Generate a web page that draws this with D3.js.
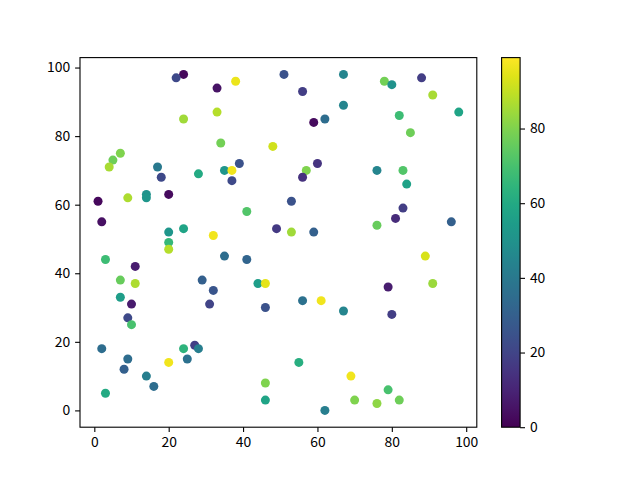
<!DOCTYPE html>
<html>
<head>
<meta charset="utf-8">
<script src="https://d3js.org/d3.v7.min.js"></script>
<style>
    body { margin: 0; background: #fff; }
    svg text { font-family: "Noto Sans CJK SC", "Noto Sans", "DejaVu Sans", sans-serif; font-size: 13.9px; fill: #000; }
</style>
</head>
<body>
<div id="chart"></div>
<script>
// scatter points
var xs = [24, 22, 38, 33, 51, 33, 24, 34, 48, 7, 5, 4, 17, 18, 28, 35, 37, 39, 37,
    67, 56, 78, 80, 88, 91, 67, 98, 59, 62, 82, 85, 60, 57, 56, 76, 83, 84,
    1, 9, 14, 14, 20, 2, 41, 49, 20, 24, 32, 20, 20, 3, 35, 41, 11, 7, 11, 29, 32, 44, 46, 7, 10, 31, 46,
    53, 83, 81, 76, 96, 53, 59, 89, 79, 91, 56, 61,
    9, 10, 2, 24, 27, 28, 9, 25, 20, 8, 14, 16, 3, 46, 46,
    67, 80, 55, 69, 79, 70, 76, 82, 62];
var ys = [98, 97, 96, 94, 98, 87, 85, 78, 77, 75, 73, 71, 71, 68, 69, 70, 70, 72, 67,
    98, 93, 96, 95, 97, 92, 89, 87, 84, 85, 86, 81, 72, 70, 68, 70, 70, 66,
    61, 62, 63, 62, 63, 55, 58, 53, 52, 53, 51, 49, 47, 44, 45, 44, 42, 38, 37, 38, 35, 37, 37, 33, 31, 31, 30,
    61, 59, 56, 54, 55, 52, 52, 45, 36, 37, 32, 32,
    27, 25, 18, 18, 19, 18, 15, 15, 14, 12, 10, 7, 5, 8, 3,
    29, 28, 14, 10, 6, 3, 2, 3, 0];
var cs = [2, 22, 96, 5, 25, 88, 85, 78, 92, 80, 77, 86, 40, 22, 60, 52, 97, 25, 22,
    45, 18, 78, 50, 18, 86, 45, 58, 3, 35, 68, 77, 15, 80, 14, 45, 72, 57,
    2, 87, 50, 52, 3, 4, 72, 17, 52, 58, 97, 66, 88, 68, 35, 32, 8, 76, 87, 30, 26, 55, 95, 55, 7, 20, 25,
    25, 18, 12, 76, 30, 85, 30, 93, 8, 84, 37, 97,
    22, 70, 35, 64, 18, 42, 35, 37, 97, 30, 42, 35, 60, 80, 58,
    45, 18, 62, 97, 70, 80, 82, 77, 42];
var axisTicks = [0, 20, 40, 60, 80, 100];
var colorTicks = [0, 20, 40, 60, 80];
var colorRange = [0, 99];

var width = 640, height = 480;
// axes box in pixels (matplotlib default layout with a colorbar)
var plot = {left: 80, right: 476.8, top: 57.6, bottom: 427.2};
var cbar = {left: 501.6, right: 520.1, top: 57.6, bottom: 427.2};

var svg = d3.select("#chart").append("svg")
    .attr("width", width)
    .attr("height", height);

// pad the data range by 5% on each side
function padded(values) {
    var ext = d3.extent(values);
    var m = (ext[1] - ext[0]) * 0.05;
    return [ext[0] - m, ext[1] + m];
}

var xScale = d3.scaleLinear().domain(padded(xs)).range([plot.left, plot.right]);
var yScale = d3.scaleLinear().domain(padded(ys)).range([plot.bottom, plot.top]);
var colorScale = d3.scaleSequential(d3.interpolateViridis).domain(colorRange);

var points = d3.range(xs.length).map(function (i) {
    return {x: xs[i], y: ys[i], c: cs[i]};
});

svg.append("g")
    .selectAll("circle")
    .data(points)
    .enter()
    .append("circle")
    .attr("cx", function (d) { return xScale(d.x); })
    .attr("cy", function (d) { return yScale(d.y); })
    .attr("r", 4.5)
    .attr("fill", function (d) { return colorScale(d.c); });

// axes
var xAxis = svg.append("g")
    .attr("transform", "translate(0," + plot.bottom + ")")
    .call(d3.axisBottom(xScale).tickValues(axisTicks).tickSizeOuter(0).tickSize(4.9).tickPadding(4.9));

var yAxis = svg.append("g")
    .attr("transform", "translate(" + plot.left + ",0)")
    .call(d3.axisLeft(yScale).tickValues(axisTicks).tickSizeOuter(0).tickSize(4.9).tickPadding(4.9));

[xAxis, yAxis].forEach(function (a) {
    a.select(".domain").remove();
    a.selectAll("line").attr("stroke", "#000").attr("stroke-width", 1.1);
    a.selectAll("text").style("font-size", "13.9px");
});

svg.append("rect")
    .attr("x", plot.left)
    .attr("y", plot.top)
    .attr("width", plot.right - plot.left)
    .attr("height", plot.bottom - plot.top)
    .attr("fill", "none")
    .attr("stroke", "#000")
    .attr("stroke-width", 1.1);

// colorbar
var cbScale = d3.scaleLinear().domain(colorRange).range([cbar.bottom, cbar.top]);

var grad = svg.append("defs").append("linearGradient")
    .attr("id", "viridis")
    .attr("x1", 0).attr("y1", 1)
    .attr("x2", 0).attr("y2", 0);

grad.selectAll("stop")
    .data(d3.range(0, 1.0001, 0.05))
    .enter()
    .append("stop")
    .attr("offset", function (t) { return t; })
    .attr("stop-color", function (t) { return d3.interpolateViridis(t); });

svg.append("rect")
    .attr("x", cbar.left)
    .attr("y", cbar.top)
    .attr("width", cbar.right - cbar.left)
    .attr("height", cbar.bottom - cbar.top)
    .attr("fill", "url(#viridis)")
    .attr("stroke", "#000")
    .attr("stroke-width", 1.1);

var cAxis = svg.append("g")
    .attr("transform", "translate(" + cbar.right + ",0)")
    .call(d3.axisRight(cbScale).tickValues(colorTicks).tickSizeOuter(0).tickSize(4.9).tickPadding(4.9));

cAxis.select(".domain").remove();
cAxis.selectAll("line").attr("stroke", "#000").attr("stroke-width", 1.1);
cAxis.selectAll("text").style("font-size", "13.9px");
</script>
</body>
</html>
